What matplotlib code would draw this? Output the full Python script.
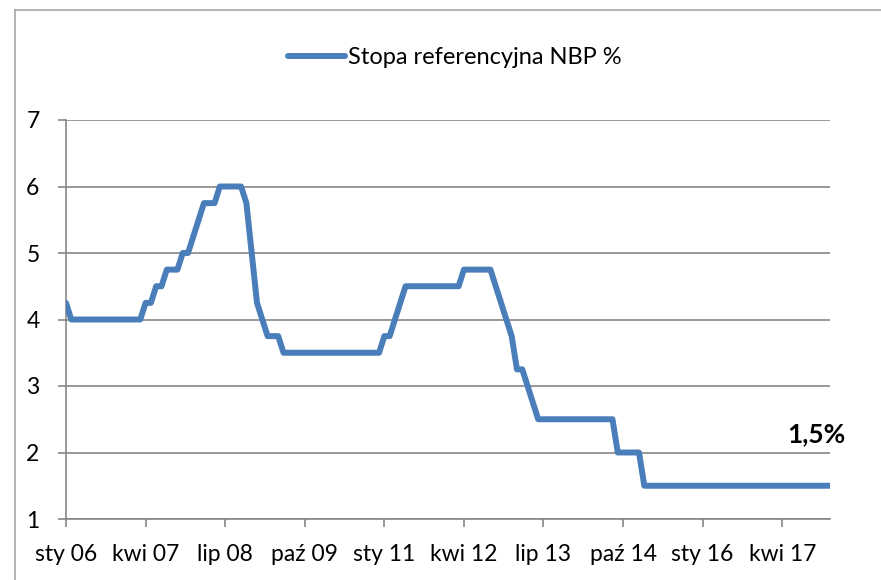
"""NBP reference rate chart"""

import matplotlib
matplotlib.use('Agg')
import matplotlib.pyplot as plt
from matplotlib.lines import Line2D

# monthly NBP reference rate, sty 06 .. sty 18
rate_2006 = [4.25, 4.0, 4.0, 4.0, 4.0, 4.0, 4.0, 4.0, 4.0, 4.0, 4.0, 4.0]
rate_2007 = [4.0, 4.0, 4.0, 4.25, 4.25, 4.5, 4.5, 4.75, 4.75, 4.75, 5.0, 5.0]
rate_2008 = [5.25, 5.5, 5.75, 5.75, 5.75, 6.0, 6.0, 6.0, 6.0, 6.0, 5.75, 5.0]
rate_2009 = [4.25, 4.0, 3.75, 3.75, 3.75, 3.5, 3.5, 3.5, 3.5, 3.5, 3.5, 3.5]
rate_2010 = [3.5, 3.5, 3.5, 3.5, 3.5, 3.5, 3.5, 3.5, 3.5, 3.5, 3.5, 3.5]
rate_2011 = [3.75, 3.75, 4.0, 4.25, 4.5, 4.5, 4.5, 4.5, 4.5, 4.5, 4.5, 4.5]
rate_2012 = [4.5, 4.5, 4.5, 4.75, 4.75, 4.75, 4.75, 4.75, 4.75, 4.5, 4.25, 4.0]
rate_2013 = [3.75, 3.25, 3.25, 3.0, 2.75, 2.5, 2.5, 2.5, 2.5, 2.5, 2.5, 2.5]
rate_2014 = [2.5, 2.5, 2.5, 2.5, 2.5, 2.5, 2.5, 2.5, 2.0, 2.0, 2.0, 2.0]
rate_2015 = [2.0, 1.5, 1.5, 1.5, 1.5, 1.5, 1.5, 1.5, 1.5, 1.5, 1.5, 1.5]
rate_2016 = [1.5, 1.5, 1.5, 1.5, 1.5, 1.5, 1.5, 1.5, 1.5, 1.5, 1.5, 1.5]
rate_2017 = [1.5, 1.5, 1.5, 1.5, 1.5, 1.5, 1.5, 1.5, 1.5, 1.5, 1.5, 1.5]
rate_2018 = [1.5]

tick_months = [0, 15, 30, 45, 60, 75, 90, 105, 120, 135]
tick_labels = ['sty 06', 'kwi 07', 'lip 08', 'paź 09', 'sty 11',
               'kwi 12', 'lip 13', 'paź 14', 'sty 16', 'kwi 17']
y_ticks = [1, 2, 3, 4, 5, 6, 7]

series_label = 'Stopa referencyjna NBP %'
last_label = '1,5%'

rates = (rate_2006 + rate_2007 + rate_2008 + rate_2009 + rate_2010 + rate_2011
         + rate_2012 + rate_2013 + rate_2014 + rate_2015 + rate_2016 + rate_2017
         + rate_2018)
months = list(range(len(rates)))

plt.rcParams['font.family'] = ['Lato', 'DejaVu Sans']

W, H = 881, 580
fig = plt.figure(figsize=(W / 100, H / 100), dpi=100)
ax = fig.add_axes([66 / W, 61 / H, 764 / W, 399 / H])

GRAY = '#868686'
BLUE = '#4a7ebb'

# outer chart frame: only its left and top edges fall inside the picture
frame_x = 15 / W
frame_y = 1 - 10 / H
fig.add_artist(Line2D([frame_x, frame_x], [0, frame_y], transform=fig.transFigure,
                      color='#a6a6a6', linewidth=1.2))
fig.add_artist(Line2D([frame_x, 1], [frame_y, frame_y], transform=fig.transFigure,
                      color='#a6a6a6', linewidth=1.2))

line, = ax.plot(months, rates, color=BLUE, linewidth=4.3,
                solid_capstyle='round', solid_joinstyle='round',
                label=series_label, zorder=3)

ax.set_xlim(0, 144)
ax.set_ylim(1, 7)
ax.set_yticks(y_ticks)
ax.set_xticks(tick_months)
ax.set_xticklabels(tick_labels)
ax.yaxis.grid(True, color=GRAY, linewidth=1.2)
ax.set_axisbelow(True)

for side in ('top', 'right'):
    ax.spines[side].set_visible(False)
for side in ('left', 'bottom'):
    ax.spines[side].set_color(GRAY)
    ax.spines[side].set_linewidth(1.2)

ax.tick_params(axis='y', length=6, width=1.2, color=GRAY, pad=13,
               labelsize=16.5, labelcolor='black')
ax.tick_params(axis='x', length=6, width=1.2, color=GRAY, pad=12,
               labelsize=16.5, labelcolor='black')

ax.text(141.4, 2.28, last_label, fontsize=19, fontweight='bold',
        ha='center', va='center')

ax.legend(handles=[line], loc='center', bbox_to_anchor=(455 / W, 1 - 58 / H),
          bbox_transform=fig.transFigure, frameon=False, fontsize=17,
          handlelength=2.4, handletextpad=0.15)

fig.savefig('out.png', dpi=100)
